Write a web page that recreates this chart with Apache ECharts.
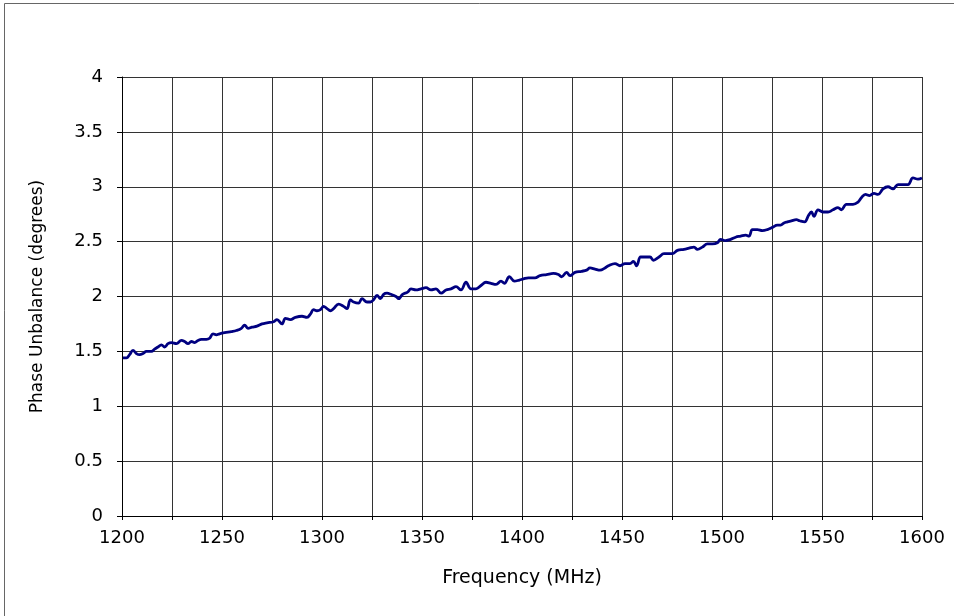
<!DOCTYPE html>
<html>
<head>
<meta charset="utf-8">
<script src="https://cdn.jsdelivr.net/npm/echarts@6/dist/echarts.min.js"></script>
<style>
html,body{margin:0;padding:0;background:#fff;}
#chart{width:954px;height:616px;}
</style>
</head>
<body>
<div id="chart"></div>
<script>
const freqMHz = [1200.5,1202.2,1203.8,1205.5,1207.2,1208.8,1210.5,1212.2,1214.7,1216.3,1218,1219.7,1221.3,1223,1224.7,1227.2,1229.7,1231.3,1233,1234.7,1236.3,1238,1239.7,1242.2,1243.8,1245.5,1247.2,1248.8,1251.3,1254.7,1257.2,1259.7,1261.3,1263,
1265,1267.5,1270,1272.5,1275.8,1277.5,1280,1281.7,1284.2,1286.7,1290,1292.5,1294.2,1295.8,1297.5,1299.2,1300.8,1302.5,1304.2,1305.8,1308.3,1310.8,1312.5,1314.2,1315.8,1318.3,1320,1322.5,1324.2,1325.8,1327.5,1329.2,1330.8,1332.5,
1334.5,1337,1338.3,1340.3,1342.8,1344.5,1347,1349.5,1352,1354.5,1357,1359.5,1362,1364.5,1367,1369.5,1372,1374.5,1377,1379.5,1382,1384.5,1387,1389.5,1391.2,1393.7,1396.2,1398.7,
1400.7,1403.2,1406.5,1409,1412.3,1415.7,1418.2,1419.8,1422.3,1424,1426.5,1429.8,1432.3,1434,1436.5,1439,1441.5,1443.2,1446.5,1449,1451.5,1454,1455.7,1457.3,1459.3,1461.5,1464,1465.7,
1468.5,1471,1473.5,1475.2,1477.7,1481,1483.5,1486,1487.7,1490.2,1492.7,1495.2,1497.7,1499.3,1501.8,1504.3,1506.8,1509.3,1511.8,1513.5,1515.2,1517.7,1520.2,1522.7,1525.2,1527.7,1529.3,1531,1532.7,
1534.7,1537.2,1538.8,1541.3,1543.3,1544.7,1546,1548,1550.5,1553,1555.5,1558,1559.7,1562.2,1565.5,1568,1569.7,1571.7,1573.8,1576,1578,1580.5,1583,1585.5,1588,1590.5,1593,1595.5,1598,1600];

const phaseDeg = [1.44,1.44,1.47,1.51,1.48,1.47,1.48,1.50,1.50,1.52,1.54,1.56,1.54,1.57,1.58,1.57,1.60,1.59,1.57,1.59,1.58,1.60,1.61,1.61,1.62,1.66,1.65,1.66,1.67,1.68,1.69,1.71,1.74,1.71,
1.72,1.73,1.75,1.76,1.77,1.79,1.75,1.80,1.79,1.81,1.82,1.81,1.84,1.88,1.87,1.88,1.91,1.89,1.87,1.89,1.93,1.91,1.89,1.97,1.95,1.94,1.98,1.95,1.95,1.97,2.01,1.98,2.02,2.03,
2.02,2.00,1.98,2.02,2.04,2.07,2.06,2.07,2.08,2.06,2.07,2.03,2.06,2.07,2.09,2.06,2.13,2.07,2.07,2.10,2.13,2.12,2.11,2.14,2.12,2.18,2.14,2.15,
2.16,2.17,2.17,2.19,2.20,2.21,2.20,2.18,2.22,2.19,2.22,2.23,2.24,2.26,2.25,2.24,2.26,2.28,2.30,2.28,2.30,2.30,2.32,2.28,2.36,2.36,2.36,2.33,
2.36,2.39,2.39,2.39,2.42,2.43,2.44,2.45,2.43,2.45,2.48,2.48,2.49,2.52,2.51,2.52,2.54,2.55,2.56,2.55,2.61,2.61,2.60,2.61,2.63,2.65,2.65,2.67,2.68,
2.69,2.70,2.69,2.68,2.74,2.77,2.73,2.79,2.77,2.77,2.79,2.81,2.79,2.84,2.84,2.86,2.90,2.93,2.92,2.94,2.93,2.98,3.00,2.98,3.02,3.02,3.02,3.08,3.07,3.08];

const xTitle = 'Frequency (MHz)';
const yTitle = 'Phase Unbalance (degrees)';

const seriesData = freqMHz.map((f, i) => [f, phaseDeg[i]]);
const font = 'DejaVu Sans, Verdana, sans-serif';

const chart = echarts.init(document.getElementById('chart'), null, {renderer: 'canvas'});
chart.setOption({
  animation: false,
  backgroundColor: '#fff',
  graphic: [{
    type: 'rect', shape: {x: 4.5, y: 3.5, width: 1200, height: 1200},
    style: {fill: 'none', stroke: '#666', lineWidth: 1}, silent: true, z: -1
  }],
  grid: {left: 122, right: 32, top: 77, bottom: 100},
  xAxis: {
    type: 'value', min: 1200, max: 1600, interval: 25,
    name: xTitle, nameLocation: 'middle', nameGap: 53,
    nameTextStyle: {fontFamily: font, fontSize: 19, color: '#000'},
    axisLine: {show: true, lineStyle: {color: '#000', width: 1}},
    axisTick: {show: true, length: 4, lineStyle: {color: '#000'}},
    splitLine: {show: true, lineStyle: {color: '#333', width: 1}},
    axisLabel: {
      fontFamily: font, fontSize: 18, color: '#000', margin: 13,
      formatter: v => (v % 50 === 0 ? String(v) : '')
    }
  },
  yAxis: {
    type: 'value', min: 0, max: 4, interval: 0.5,
    name: yTitle, nameLocation: 'middle', nameGap: 76,
    nameTextStyle: {fontFamily: font, fontSize: 17, color: '#000'},
    axisLine: {show: true, lineStyle: {color: '#000', width: 1}},
    axisTick: {show: true, length: 5, lineStyle: {color: '#000'}},
    splitLine: {show: true, lineStyle: {color: '#333', width: 1}},
    axisLabel: {fontFamily: font, fontSize: 18, color: '#000', margin: 19}
  },
  series: [{
    type: 'line', data: seriesData, showSymbol: false, smooth: 0.4,
    lineStyle: {color: '#000080', width: 2.8}, z: 5
  }]
});
</script>
</body>
</html>
